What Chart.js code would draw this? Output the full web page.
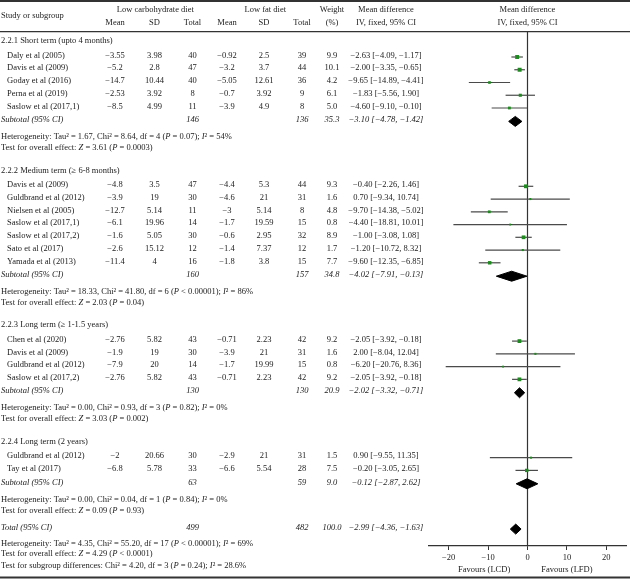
<!DOCTYPE html>
<html>
<head>
<meta charset="utf-8">
<script src="https://cdn.jsdelivr.net/npm/chart.js@4.4.1/dist/chart.umd.min.js"></script>
<style>
html,body{margin:0;padding:0;background:#fff;}
canvas{display:block;}
</style>
</head>
<body>
<canvas id="c" width="630" height="579" style="width:630px;height:579px"></canvas>
<script>
// ---------------- DATA ----------------
const groupTitles = [
  "2.2.1 Short term (upto 4 months)",
  "2.2.2 Medium term (\u2265 6-8 months)",
  "2.2.3 Long term (\u2265 1-1.5 years)",
  "2.2.4 Long term (2 years)"
];
const studyGroup = [0,0,0,0,0, 1,1,1,1,1,1,1, 2,2,2,2, 3,3];
const studyNames = [
  "Daly et al (2005)","Davis et al (2009)","Goday et al (2016)","Perna et al (2019)","Saslow et al (2017,1)",
  "Davis et al (2009)","Guldbrand et al (2012)","Nielsen et al (2005)","Saslow et al (2017,1)","Saslow et al (2017,2)","Sato et al (2017)","Yamada et al (2013)",
  "Chen et al (2020)","Davis et al (2009)","Guldbrand et al (2012)","Saslow et al (2017,2)",
  "Guldbrand et al (2012)","Tay et al (2017)"
];
const lcdMean = [-3.55,-5.2,-14.7,-2.53,-8.5, -4.8,-3.9,-12.7,-6.1,-1.6,-2.6,-11.4, -2.76,-1.9,-7.9,-2.76, -2,-6.8];
const lcdSD   = [3.98,2.8,10.44,3.92,4.99, 3.5,19,5.14,19.96,5.05,15.12,4, 5.82,19,20,5.82, 20.66,5.78];
const lcdN    = [40,47,40,8,11, 47,30,11,14,30,12,16, 43,30,14,43, 30,33];
const lfdMean = [-0.92,-3.2,-5.05,-0.7,-3.9, -4.4,-4.6,-3,-1.7,-0.6,-1.4,-1.8, -0.71,-3.9,-1.7,-0.71, -2.9,-6.6];
const lfdSD   = [2.5,3.7,12.61,3.92,4.9, 5.3,21,5.14,19.59,2.95,7.37,3.8, 2.23,21,19.99,2.23, 21,5.54];
const lfdN    = [39,44,36,9,8, 44,31,8,15,32,12,15, 42,31,15,42, 31,28];
const weights = [9.9,10.1,4.2,6.1,5.0, 9.3,1.6,4.8,0.8,8.9,1.7,7.7, 9.2,1.6,0.8,9.2, 1.5,7.5];
const meanDiff = [-2.63,-2.00,-9.65,-1.83,-4.60, -0.40,0.70,-9.70,-4.40,-1.00,-1.20,-9.60, -2.05,2.00,-6.20,-2.05, 0.90,-0.20];
const ciLow  = [-4.09,-3.35,-14.89,-5.56,-9.10, -2.26,-9.34,-14.38,-18.81,-3.08,-10.72,-12.35, -3.92,-8.04,-20.76,-3.92, -9.55,-3.05];
const ciHigh = [-1.17,-0.65,-4.41,1.90,-0.10, 1.46,10.74,-5.02,10.01,1.08,8.32,-6.85, -0.18,12.04,8.36,-0.18, 11.35,2.65];

const subLcdN = [146,160,130,63];
const subLfdN = [136,157,130,59];
const subWeight = [35.3,34.8,20.9,9.0];
const subMD = [-3.10,-4.02,-2.02,-0.12];
const subLow = [-4.78,-7.91,-3.32,-2.87];
const subHigh = [-1.42,-0.13,-0.71,2.62];
const hetTau2 = [1.67,18.33,0.00,0.00];
const hetChi2 = [8.64,41.80,0.93,0.04];
const hetDf = [4,6,3,1];
const hetP = ["= 0.07","< 0.00001","= 0.82","= 0.84"];
const hetI2 = [54,86,0,0];
const effZ = [3.61,2.03,3.03,0.09];
const effP = ["= 0.0003","= 0.04","= 0.002","= 0.93"];

const totalN = [499,482];
const totalWeight = 100.0;
const totalEffect = [-2.99,-4.36,-1.63];
const totalHet = [4.35,55.20,17,"< 0.00001",69];
const totalZ = [4.29,"< 0.0001"];
const subgroupDiff = [4.20,3,"= 0.24","28.6"];

const axisTicks = [-20,-10,0,10,20];
const favourLabels = ["Favours (LCD)","Favours (LFD)"];

// ---------------- LAYOUT (row positions) ----------------
const PLOT_TOP = 32, PLOT_H = 514;
const rows = [];
(function buildRows(){
  let y = 41 - PLOT_TOP;
  for (let g = 0; g < groupTitles.length; g++) {
    if (g > 0) y += 22.4;
    rows.push({kind:'heading', g, y});
    const idx = studyGroup.map((gg,i)=>gg===g?i:-1).filter(i=>i>=0);
    idx.forEach((i,k) => { y += (k===0 ? 14.5 : 12.75); rows.push({kind:'study', i, y}); });
    y += 13.4; rows.push({kind:'subtotal', g, y});
    y += 17;   rows.push({kind:'het', g, y});
    y += 11;   rows.push({kind:'test', g, y});
  }
  y += 17.3; rows.push({kind:'total', y});
  y += 16;   rows.push({kind:'totalHet', y});
  y += 10.5; rows.push({kind:'totalTest', y});
  y += 12;   rows.push({kind:'subgroup', y});
})();

const MARK_SHIFT = 1.5; // marks sit slightly below the text mid-line
const studyRows = rows.filter(r=>r.kind==='study');
const diamondRows = rows.filter(r=>r.kind==='subtotal' || r.kind==='total');

// ---------------- DATASETS ----------------
const datasets = [];
datasets.push({
  data:[{x:0,y:0},{x:0,y:PLOT_H}], showLine:true, borderColor:'#333', borderWidth:1.2,
  pointRadius:0, order:5
});
studyRows.forEach(r => {
  const yy = r.y + MARK_SHIFT;
  datasets.push({
    data:[{x:ciLow[r.i],y:yy},{x:ciHigh[r.i],y:yy}], showLine:true,
    borderColor:'#4a4a4a', borderWidth:1.2, pointRadius:0, order:3
  });
});
datasets.push({
  data: studyRows.map(r => ({x:meanDiff[r.i], y:r.y + MARK_SHIFT})),
  pointStyle:'rect',
  pointRadius: studyRows.map(r => 1.2 + weights[r.i]*0.16),
  backgroundColor:'#1f8a1f', borderColor:'#1f8a1f', borderWidth:0, order:1
});
diamondRows.forEach(r => {
  const yy = r.y + MARK_SHIFT;
  const m = r.kind==='total' ? totalEffect[0] : subMD[r.g];
  const lo = r.kind==='total' ? totalEffect[1] : subLow[r.g];
  const hi = r.kind==='total' ? totalEffect[2] : subHigh[r.g];
  datasets.push({
    data:[{x:lo,y:yy},{x:m,y:yy-5},{x:hi,y:yy},{x:m,y:yy+5},{x:lo,y:yy}],
    showLine:true, fill:'shape', backgroundColor:'#000', borderColor:'#000',
    borderWidth:1, pointRadius:0, tension:0, order:0
  });
});

// ---------------- TEXT ----------------
const FS = 8.5;
const FAM = "'Liberation Serif'";
const TXT = '#222';
const minus = s => String(s).replace(/-/g,'\u2212');
const f2 = v => minus(v.toFixed(2));
const ciText = (m,l,h) => f2(m) + ' [' + f2(l) + ', ' + f2(h) + ']';
const colX = {lcdMean:115, lcdSD:154.5, lcdN:192.5, lfdMean:227, lfdSD:264, lfdN:302, weight:332, md:386};

function drawRich(ctx, str, x, y, baseItalic){
  const parts = str.split('|');
  let cx = x;
  ctx.textAlign = 'left';
  parts.forEach((p,k) => {
    const it = (k % 2 === 1) !== !!baseItalic;
    ctx.font = (it ? 'italic ' : '') + FS + 'px ' + FAM;
    ctx.fillText(p, cx, y);
    cx += ctx.measureText(p).width;
  });
}
function ctext(ctx, str, x, y, italic){
  ctx.textAlign = 'center';
  ctx.font = (italic ? 'italic ' : '') + FS + 'px ' + FAM;
  ctx.fillText(str, x, y);
}
const hetStr = (tau,chi,df,p,i2) => 'Heterogeneity: Tau\u00B2 = ' + tau.toFixed(2) + ', Chi\u00B2 = ' + chi.toFixed(2) +
  ', df = ' + df + ' (|P| ' + p + '); |I|\u00B2 = ' + i2 + '%';
const testStr = (z,p) => 'Test for overall effect: |Z| = ' + z.toFixed(2) + ' (|P| ' + p + ')';

const tablePlugin = {
  id:'table',
  afterDraw(chart){
    const ctx = chart.ctx, ys = chart.scales.y, xs = chart.scales.x;
    ctx.save();
    ctx.fillStyle = TXT;
    ctx.textBaseline = 'middle';
    // rules
    ctx.strokeStyle = '#333';
    ctx.lineWidth = 2;
    ctx.beginPath(); ctx.moveTo(0,1); ctx.lineTo(630,1); ctx.stroke();
    ctx.beginPath(); ctx.moveTo(0,577.5); ctx.lineTo(630,577.5); ctx.stroke();
    ctx.lineWidth = 1.2;
    ctx.beginPath(); ctx.moveTo(0,31.7); ctx.lineTo(630,31.7); ctx.stroke();
    // header
    drawRich(ctx, 'Study or subgroup', 1, 15.7);
    ctext(ctx, 'Low carbohydrate diet', 155.3, 9.3);
    ctext(ctx, 'Low fat diet', 265.3, 9.3);
    ctext(ctx, 'Weight', colX.weight, 9.3);
    ctext(ctx, 'Mean difference', colX.md, 9.3);
    ctext(ctx, 'Mean difference', xs.getPixelForValue(0), 9.3);
    ctext(ctx, 'Mean', colX.lcdMean, 22.7);
    ctext(ctx, 'SD', colX.lcdSD, 22.7);
    ctext(ctx, 'Total', colX.lcdN, 22.7);
    ctext(ctx, 'Mean', colX.lfdMean, 22.7);
    ctext(ctx, 'SD', colX.lfdSD, 22.7);
    ctext(ctx, 'Total', colX.lfdN, 22.7);
    ctext(ctx, '(%)', colX.weight, 22.7);
    ctext(ctx, 'IV, fixed, 95% CI', colX.md, 22.7);
    ctext(ctx, 'IV, fixed, 95% CI', xs.getPixelForValue(0), 22.7);
    // body
    rows.forEach(r => {
      const y = ys.getPixelForValue(r.y);
      if (r.kind==='heading') drawRich(ctx, groupTitles[r.g], 1, y);
      else if (r.kind==='study') {
        const i = r.i;
        drawRich(ctx, studyNames[i], 7, y);
        ctext(ctx, minus(lcdMean[i]), colX.lcdMean, y);
        ctext(ctx, String(lcdSD[i]), colX.lcdSD, y);
        ctext(ctx, String(lcdN[i]), colX.lcdN, y);
        ctext(ctx, minus(lfdMean[i]), colX.lfdMean, y);
        ctext(ctx, String(lfdSD[i]), colX.lfdSD, y);
        ctext(ctx, String(lfdN[i]), colX.lfdN, y);
        ctext(ctx, weights[i].toFixed(1), colX.weight, y);
        ctext(ctx, ciText(meanDiff[i], ciLow[i], ciHigh[i]), colX.md, y);
      } else if (r.kind==='subtotal') {
        const g = r.g;
        drawRich(ctx, 'Subtotal (95% CI)', 1, y, true);
        ctext(ctx, String(subLcdN[g]), colX.lcdN, y, true);
        ctext(ctx, String(subLfdN[g]), colX.lfdN, y, true);
        ctext(ctx, subWeight[g].toFixed(1), colX.weight, y, true);
        ctext(ctx, ciText(subMD[g], subLow[g], subHigh[g]), colX.md, y, true);
      } else if (r.kind==='het') {
        drawRich(ctx, hetStr(hetTau2[r.g], hetChi2[r.g], hetDf[r.g], hetP[r.g], hetI2[r.g]), 1, y);
      } else if (r.kind==='test') {
        drawRich(ctx, testStr(effZ[r.g], effP[r.g]), 1, y);
      } else if (r.kind==='total') {
        drawRich(ctx, 'Total (95% CI)', 1, y, true);
        ctext(ctx, String(totalN[0]), colX.lcdN, y, true);
        ctext(ctx, String(totalN[1]), colX.lfdN, y, true);
        ctext(ctx, totalWeight.toFixed(1), colX.weight, y, true);
        ctext(ctx, ciText(totalEffect[0], totalEffect[1], totalEffect[2]), colX.md, y, true);
      } else if (r.kind==='totalHet') {
        drawRich(ctx, hetStr(totalHet[0], totalHet[1], totalHet[2], totalHet[3], totalHet[4]), 1, y);
      } else if (r.kind==='totalTest') {
        drawRich(ctx, testStr(totalZ[0], totalZ[1]), 1, y);
      } else if (r.kind==='subgroup') {
        drawRich(ctx, 'Test for subgroup differences: Chi\u00B2 = ' + subgroupDiff[0].toFixed(2) + ', df = ' + subgroupDiff[1] +
          ' (|P| ' + subgroupDiff[2] + '); |I|\u00B2 = ' + subgroupDiff[3] + '%', 1, y);
      }
    });
    // favours labels
    ctext(ctx, favourLabels[0], xs.getPixelForValue(-11), 570);
    ctext(ctx, favourLabels[1], xs.getPixelForValue(10), 570);
    ctx.restore();
  }
};

new Chart(document.getElementById('c'), {
  type:'scatter',
  data:{datasets},
  options:{
    responsive:false,
    animation:false,
    layout:{padding:{left:429, right:4, top:PLOT_TOP, bottom:0}},
    plugins:{legend:{display:false}, tooltip:{enabled:false}},
    scales:{
      x:{
        type:'linear', min:-25, max:25,
        afterBuildTicks: s => { s.ticks = axisTicks.map(v => ({value:v})); },
        afterFit: s => { s.height = 33; },
        grid:{display:true, drawOnChartArea:false, drawTicks:true, tickLength:4, color:'#333', lineWidth:1},
        border:{display:true, color:'#333', width:1.2},
        ticks:{color:TXT, font:{family:'Liberation Serif', size:FS}, padding:3, maxRotation:0, autoSkip:false,
          callback: v => minus(v)}
      },
      y:{type:'linear', min:0, max:PLOT_H, reverse:true, display:false}
    }
  },
  plugins:[tablePlugin]
});
</script>
</body>
</html>
